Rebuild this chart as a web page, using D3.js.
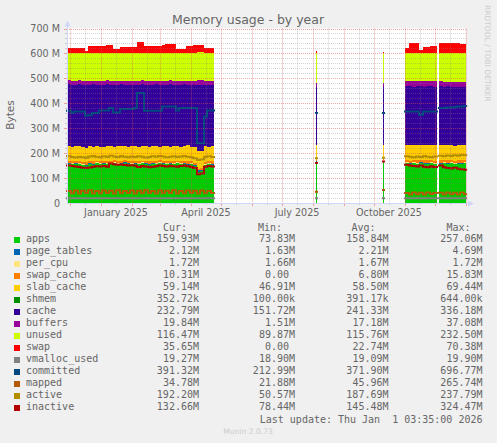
<!DOCTYPE html>
<html>
<head>
<meta charset="utf-8">
<script src="https://cdn.jsdelivr.net/npm/d3@7"></script>
<style>
  body { margin: 0; background: #f0f0f0; }
  svg text { font-family: "DejaVu Sans", sans-serif; fill: #666666; }
  svg text.mono { font-family: "DejaVu Sans Mono", monospace; font-size: 10px; white-space: pre; }
</style>
</head>
<body>
<div id="chart"></div>
<script>
// sample start dates (each value holds until the next date); gap rows carry null
var dates = [
    "2024-11-28", "2024-12-02", "2024-12-05", "2024-12-09", "2024-12-12", "2024-12-16", "2024-12-19",
    "2024-12-23", "2024-12-26", "2024-12-30", "2025-01-02", "2025-01-06", "2025-01-09", "2025-01-13",
    "2025-01-16", "2025-01-20", "2025-01-23", "2025-01-27", "2025-01-30", "2025-02-03", "2025-02-06",
    "2025-02-10", "2025-02-13", "2025-02-17", "2025-02-20", "2025-02-24", "2025-02-27", "2025-03-03",
    "2025-03-06", "2025-03-10", "2025-03-13", "2025-03-17", "2025-03-20", "2025-03-24", "2025-03-27",
    "2025-03-31", "2025-04-03", "2025-04-07", "2025-04-10", "2025-04-14", "2025-04-17", "2025-04-21",
    "2025-04-24",
    "2025-08-04", "2025-08-05",
    "2025-10-10", "2025-10-11",
    "2025-11-01", "2025-11-05", "2025-11-08", "2025-11-12", "2025-11-15", "2025-11-19", "2025-11-22",
    "2025-11-26", "2025-11-29", "2025-12-03",
    "2025-12-05", "2025-12-09", "2025-12-12", "2025-12-16", "2025-12-19", "2025-12-23", "2025-12-26",
    "2025-12-30", "2026-01-01T03:35"
];

// values in M (base 1024)
var apps = [157, 155, 158, 156, 152, 150, 157, 154, 159, 156, 158, 155, 157, 160, 156, 158, 161, 157, 155, 158, 156,
    159, 157, 154, 158, 156, 160, 157, 155, 158, 156, 159, 155, 157, 154, 156, 150, 126, 128, 152, 156, 154,
    null, 165, null, 168, null,
    160, 157, 159, 156, 161, 158, 157, 159, 156, null,
    158, 160, 157, 159, 156, 158, 157, 160, null];
var pageTables = [2.3, 2.2, 2.2, 2.1, 2.2, 2.3, 2.2, 2.2, 2.1, 2.2, 2.3, 2.2, 2.2, 2.1, 2.2, 2.2, 2.3, 2.2, 2.1, 2.2, 2.2,
    2.3, 2.2, 2.2, 2.1, 2.2, 2.2, 2.3, 2.2, 2.2, 2.1, 2.2, 2.3, 2.2, 2.2, 2.1, 2.4, 4.6, 3.8, 2.3, 2.2, 2.2,
    null, 2.0, null, 1.9, null,
    2.1, 2.2, 2.1, 2.1, 2.2, 2.1, 2.1, 2.2, 2.1, null,
    2.1, 2.1, 2.2, 2.1, 2.1, 2.2, 2.1, 2.1, null];
var perCpu = [1.67, 1.67, 1.67, 1.67, 1.67, 1.67, 1.67, 1.67, 1.67, 1.67, 1.67, 1.67, 1.67, 1.67, 1.67, 1.67, 1.67,
    1.67, 1.67, 1.67, 1.67, 1.67, 1.67, 1.67, 1.67, 1.67, 1.67, 1.67, 1.67, 1.67, 1.67, 1.67, 1.67, 1.67, 1.67,
    1.67, 1.67, 1.67, 1.67, 1.67, 1.67, 1.67,
    null, 1.66, null, 1.66, null,
    1.70, 1.70, 1.70, 1.70, 1.70, 1.71, 1.71, 1.71, 1.71, null,
    1.72, 1.72, 1.72, 1.72, 1.72, 1.72, 1.72, 1.72, null];
var swapCache = [8, 9, 7, 8, 10, 9, 8, 9, 7, 8, 8, 9, 8, 7, 9, 8, 7, 9, 10, 8, 8, 7, 8, 10, 8, 9, 7, 8, 9, 8, 9,
    7, 9, 8, 10, 9, 8, 6, 7, 9, 8, 9,
    null, 5, null, 5, null,
    8, 9, 10, 11, 9, 10, 11, 10, 10, null,
    10, 9, 11, 10, 10, 11, 10, 10, null];
var slabCache = [59, 57, 59, 59, 58, 59, 60, 58, 58, 58, 55, 60, 60, 55, 61, 57, 56, 56, 60, 59, 58, 60, 58, 58,
    58, 60, 55, 58, 62, 56, 60, 57, 57, 59, 63, 57, 62, 69, 68, 62, 57, 60,
    null, 58, null, 57, null,
    60, 61, 59, 60, 58, 61, 59, 60, 62, null,
    59, 60, 61, 58, 60, 59, 60, 59, null];
var shmem = [0.4, 0.4, 0.4, 0.4, 0.4, 0.4, 0.4, 0.4, 0.4, 0.4, 0.4, 0.4, 0.4, 0.4, 0.4, 0.4, 0.4, 0.4, 0.4, 0.4,
    0.4, 0.4, 0.4, 0.4, 0.4, 0.4, 0.4, 0.4, 0.4, 0.4, 0.4, 0.4, 0.4, 0.4, 0.4, 0.4, 0.4, 0.4, 0.4, 0.4, 0.4, 0.4,
    null, 0.3, null, 0.3, null,
    0.35, 0.35, 0.35, 0.35, 0.35, 0.35, 0.35, 0.35, 0.35, null,
    0.35, 0.35, 0.35, 0.35, 0.35, 0.35, 0.35, 0.35, null];
var cache = [247.7, 248.7, 246.7, 249.7, 248.7, 249.7, 245.7, 250.7, 245.7, 246.7, 249.7, 247.7, 244.7, 245.7,
    243.7, 248.7, 246.7, 246.7, 242.7, 244.7, 248.7, 245.7, 246.7, 246.7, 246.7, 246.7, 247.7, 245.7, 244.7,
    249.7, 244.7, 244.7, 248.7, 247.7, 243.7, 246.7, 247.7, 264.7, 263.7, 246.7, 249.7, 246.7,
    null, 232.8, null, 230, null,
    237.7, 236.7, 234.7, 237.7, 235.7, 233.7, 236.7, 235.7, 234.7, null,
    236.7, 233.7, 234.7, 234.7, 236.7, 233.7, 235.7, 232.7, null];
var buffers = [16, 17, 16, 15, 18, 19, 16, 15, 17, 18, 16, 16, 17, 19, 17, 15, 16, 18, 18, 17, 16, 16, 17, 18, 16,
    15, 17, 18, 16, 16, 17, 19, 17, 15, 16, 18, 18, 20, 19, 17, 16, 17,
    null, 16, null, 17, null,
    19, 20, 21, 19, 20, 21, 20, 19, 21, null,
    20, 20, 19, 21, 20, 20, 19, 20, null];
var unused = [110.7, 111.7, 111.7, 110.7, 111.7, 111.7, 111.7, 111.7, 111.7, 111.7, 111.7, 110.7, 111.7, 111.7,
    111.7, 111.7, 111.7, 111.7, 112.7, 111.7, 111.7, 110.7, 111.7, 111.7, 111.7, 111.7, 111.7, 111.7, 111.7,
    110.7, 111.7, 111.7, 111.7, 111.7, 111.7, 111.7, 112.7, 112.7, 112.7, 111.7, 111.7, 111.7,
    null, 121.6, null, 121.4, null,
    113.7, 114.7, 114.7, 114.7, 114.7, 114.7, 114.7, 114.7, 114.7, null,
    114.7, 115.7, 115.7, 115.7, 115.7, 116.7, 116.7, 116.7, null];
var swap = [19, 19, 19, 19, 19, 7, 26, 26, 26, 26, 26, 30, 33, 15, 15, 23, 23, 23, 23, 23, 42, 42, 26, 26, 26, 26,
    26, 33, 37, 37, 37, 15, 15, 15, 29, 29, 29, 29, 29, 19, 19, 19,
    null, 6, null, 4, null,
    20, 39, 39, 39, 12, 23, 24, 26, 27, null,
    38, 39, 39, 38, 39, 38, 37, 36, null];

var vmallocUsed = [19.0, 19.1, 19.1, 19.0, 19.1, 19.1, 19.0, 19.1, 19.1, 19.1, 19.0, 19.1, 19.1, 19.0, 19.1, 19.1,
    19.1, 19.0, 19.1, 19.1, 19.0, 19.1, 19.1, 19.1, 19.0, 19.1, 19.1, 19.0, 19.1, 19.1, 19.1, 19.0, 19.1, 19.1,
    19.0, 19.1, 19.1, 18.9, 18.9, 19.1, 19.1, 19.0,
    null, 19.1, null, 19.2, null,
    19.2, 19.3, 19.2, 19.2, 19.3, 19.2, 19.2, 19.3, 19.2, null,
    19.3, 19.2, 19.3, 19.3, 19.2, 19.3, 19.3, 19.3, null];
var committed = [370, 362, 367, 367, 367, 350, 352, 361, 361, 371, 371, 371, 381, 363, 363, 377, 377, 377, 377, 381,
    441, 441, 370, 370, 370, 370, 370, 387, 387, 387, 387, 371, 381, 381, 381, 381, 381, 240, 240, 347, 371, 371,
    null, 361, null, 361, null,
    367, 367, 367, 367, 354, 367, 367, 367, 367, null,
    381, 381, 383, 383, 385, 387, 387, 389, null];
var mapped = [48, 39, 50, 38, 49, 40, 51, 38, 48, 39, 50, 40, 49, 38, 51, 39, 48, 40, 50, 38, 49, 39, 51, 40, 48,
    38, 50, 39, 49, 40, 51, 38, 48, 39, 50, 40, 49, 38, 50, 39, 48, 40,
    null, 45, null, 52, null,
    40, 34, 42, 35, 41, 34, 42, 36, 40, null,
    41, 34, 42, 35, 41, 34, 42, 35, null];
var active = [188, 185, 183, 186, 184, 182, 187, 189, 186, 184, 188, 185, 190, 187, 185, 189, 186, 184, 187, 185,
    188, 186, 183, 185, 188, 186, 189, 187, 184, 186, 188, 185, 187, 189, 186, 184, 180, 172, 175, 186, 188, 185,
    null, 180, null, 182, null,
    188, 186, 184, 187, 185, 189, 186, 184, 187, null,
    190, 188, 191, 189, 192, 190, 193, 192, null];
var inactive = [150, 148, 146, 144, 141, 140, 142, 145, 147, 146, 148, 145, 158, 155, 153, 154, 152, 150, 151, 149,
    144, 148, 146, 143, 145, 147, 150, 148, 146, 149, 147, 145, 148, 150, 147, 144, 140, 115, 118, 145, 148, 146,
    null, 160, null, 166, null,
    153, 150, 148, 146, 150, 145, 143, 147, 144, null,
    150, 143, 140, 138, 141, 137, 135, 133, null];

// legend
var legendNames = ["apps", "page_tables", "per_cpu", "swap_cache", "slab_cache", "shmem", "cache", "buffers",
    "unused", "swap", "vmalloc_used", "committed", "mapped", "active", "inactive"];
var legendColors = ["#00CC00", "#0066B3", "#FFE680", "#FF8000", "#FFCC00", "#008F00", "#330099", "#990099",
    "#CCFF00", "#FF0000", "#808080", "#00487D", "#B35A00", "#B38F00", "#B30000"];
var curText = ["159.93M", "2.12M", "1.72M", "10.31M", "59.14M", "352.72k", "232.79M", "19.84M", "116.47M",
    "35.65M", "19.27M", "391.32M", "34.78M", "192.20M", "132.66M"];
var minText = ["73.83M", "1.63M", "1.66M", "0.00 ", "46.91M", "100.00k", "151.72M", "1.51M", "89.87M",
    "0.00 ", "18.90M", "212.99M", "21.88M", "50.57M", "78.44M"];
var avgText = ["158.84M", "2.21M", "1.67M", "6.80M", "58.50M", "391.17k", "241.33M", "17.18M", "115.76M",
    "22.74M", "19.09M", "371.90M", "45.96M", "187.69M", "145.48M"];
var maxText = ["257.06M", "4.69M", "1.72M", "15.83M", "69.44M", "644.00k", "336.18M", "37.08M", "232.50M",
    "70.38M", "19.90M", "696.77M", "265.74M", "237.79M", "324.47M"];

var areaKeys = ["apps", "page_tables", "per_cpu", "swap_cache", "slab_cache", "shmem", "cache", "buffers", "unused", "swap"];
var lineKeys = ["vmalloc_used", "committed", "mapped", "active", "inactive"];
var seriesByKey = {
    apps: apps, page_tables: pageTables, per_cpu: perCpu, swap_cache: swapCache, slab_cache: slabCache,
    shmem: shmem, cache: cache, buffers: buffers, unused: unused, swap: swap,
    vmalloc_used: vmallocUsed, committed: committed, mapped: mapped, active: active, inactive: inactive
};
var colorByKey = {};
legendNames.forEach(function (n, i) { colorByKey[n] = legendColors[i]; });

var parseDay = d3.utcParse("%Y-%m-%d");
var parseMinute = d3.utcParse("%Y-%m-%dT%H:%M");
function toDate(s) { return s.length > 10 ? parseMinute(s) : parseDay(s); }

var rows = dates.map(function (s, i) {
    var r = { t: toDate(s), gap: apps[i] == null };
    areaKeys.forEach(function (k) { r[k] = seriesByKey[k][i] || 0; });
    return r;
});

var svg = d3.select("#chart").append("svg")
    .attr("width", 497)
    .attr("height", 443);

svg.append("rect").attr("width", 497).attr("height", 443).attr("fill", "#f0f0f0");

var plot = { left: 67, right: 466.15, top: 28.5, bottom: 203 };

var x = d3.scaleUtc()
    .domain([rows[0].t, rows[rows.length - 1].t])
    .range([plot.left, plot.right]);
var y = d3.scaleLinear()
    .domain([0, 700])
    .range([plot.bottom, plot.top]);

// canvas
svg.append("rect")
    .attr("x", plot.left).attr("y", plot.top)
    .attr("width", plot.right - plot.left).attr("height", plot.bottom - plot.top)
    .attr("fill", "#ffffff");

// step points: each sample lasts until the next date
function steps(valueAt) {
    var pts = [];
    for (var i = 0; i < rows.length - 1; i++) {
        if (rows[i].gap) { pts.push(null); continue; }
        var v = valueAt(i);
        pts.push({ t: rows[i].t, v: v }, { t: rows[i + 1].t, v: v });
    }
    return pts;
}

var stacked = d3.stack().keys(areaKeys)(rows);

var area = d3.area()
    .defined(function (d) { return d !== null; })
    .x(function (d) { return x(d.t); })
    .y0(function (d) { return y(d.v[0]); })
    .y1(function (d) { return y(d.v[1]); });

svg.append("g").selectAll("path")
    .data(stacked)
    .enter()
    .append("path")
    .attr("fill", function (s) { return colorByKey[s.key]; })
    .attr("shape-rendering", "crispEdges")
    .attr("d", function (s) { return area(steps(function (i) { return [s[i][0], s[i][1]]; })); });

var line = d3.line()
    .defined(function (d) { return d !== null; })
    .x(function (d) { return x(d.t); })
    .y(function (d) { return y(d.v); });

svg.append("g").selectAll("path")
    .data(lineKeys)
    .enter()
    .append("path")
    .attr("fill", "none")
    .attr("stroke", function (k) { return colorByKey[k]; })
    .attr("stroke-width", 2)
    .attr("stroke-linecap", "square")
    .attr("d", function (k) { return line(steps(function (i) { return seriesByKey[k][i]; })); });

// grid on top, like rrdtool
var minorColor = "rgba(128,128,128,0.35)";
var majorColor = "rgba(224,80,80,0.5)";
var grid = svg.append("g").attr("stroke-width", 1).attr("stroke-dasharray", "1,1");

var yMinor = d3.range(20, 701, 20).filter(function (v) { return v % 100 !== 0; });
var yMajor = d3.range(100, 701, 100);
grid.selectAll("line.ymin").data(yMinor).enter().append("line")
    .attr("x1", plot.left).attr("x2", plot.right)
    .attr("y1", function (v) { return Math.round(y(v)) + 0.5; })
    .attr("y2", function (v) { return Math.round(y(v)) + 0.5; })
    .attr("stroke", minorColor);
grid.selectAll("line.ymaj").data(yMajor).enter().append("line")
    .attr("x1", plot.left).attr("x2", plot.right)
    .attr("y1", function (v) { return Math.round(y(v)) + 0.5; })
    .attr("y2", function (v) { return Math.round(y(v)) + 0.5; })
    .attr("stroke", majorColor);

var monthStarts = d3.utcMonth.range(x.domain()[0], x.domain()[1]);
var midMonths = d3.utcMonth.range(d3.utcMonth.floor(x.domain()[0]), x.domain()[1])
    .map(function (m) { return d3.utcDay.offset(m, 15); })
    .filter(function (d) { return d > x.domain()[0] && d < x.domain()[1]; });
grid.selectAll("line.xmin").data(midMonths).enter().append("line")
    .attr("x1", function (d) { return Math.round(x(d)) + 0.5; })
    .attr("x2", function (d) { return Math.round(x(d)) + 0.5; })
    .attr("y1", plot.top).attr("y2", plot.bottom)
    .attr("stroke", minorColor);
grid.selectAll("line.xmaj").data(monthStarts).enter().append("line")
    .attr("x1", function (d) { return Math.round(x(d)) + 0.5; })
    .attr("x2", function (d) { return Math.round(x(d)) + 0.5; })
    .attr("y1", plot.top).attr("y2", plot.bottom)
    .attr("stroke", majorColor);

// axis ticks
var ticks = svg.append("g").attr("stroke-width", 1);
yMinor.forEach(function (v) {
    var yy = Math.round(y(v)) + 0.5;
    ticks.append("line").attr("x1", plot.left - 2).attr("x2", plot.left).attr("y1", yy).attr("y2", yy).attr("stroke", minorColor);
});
yMajor.forEach(function (v) {
    var yy = Math.round(y(v)) + 0.5;
    ticks.append("line").attr("x1", plot.left - 3).attr("x2", plot.left).attr("y1", yy).attr("y2", yy).attr("stroke", majorColor);
});
midMonths.forEach(function (d) {
    var xx = Math.round(x(d)) + 0.5;
    ticks.append("line").attr("x1", xx).attr("x2", xx).attr("y1", plot.bottom).attr("y2", plot.bottom + 2).attr("stroke", minorColor);
});
monthStarts.forEach(function (d) {
    var xx = Math.round(x(d)) + 0.5;
    ticks.append("line").attr("x1", xx).attr("x2", xx).attr("y1", plot.bottom).attr("y2", plot.bottom + 3).attr("stroke", majorColor);
});

// axes and arrows
var axisColor = "#CFD6F8";
svg.append("line").attr("x1", plot.left + 0.5).attr("x2", plot.left + 0.5)
    .attr("y1", plot.bottom).attr("y2", 24).attr("stroke", axisColor);
svg.append("line").attr("x1", plot.left).attr("x2", 469)
    .attr("y1", plot.bottom + 0.5).attr("y2", plot.bottom + 0.5).attr("stroke", axisColor);
svg.append("path").attr("d", "M64.5,26.5 L67.5,20.5 L70.5,26.5 Z").attr("fill", axisColor);
svg.append("path").attr("d", "M468,200.5 L474,203.5 L468,206.5 Z").attr("fill", axisColor);

// tick labels
svg.append("g").selectAll("text")
    .data(d3.range(0, 701, 100))
    .enter()
    .append("text")
    .attr("x", 60)
    .attr("y", function (v) { return y(v) + 3.5; })
    .attr("text-anchor", "end")
    .attr("font-size", "9.6px")
    .text(function (v) { return v === 0 ? "0" : v + " M"; });

// labels sit mid-month, only when that point is inside the graph
var labelMonths = monthStarts.filter(function (d) {
    return d.getUTCMonth() % 3 === 0 && d3.utcDay.offset(d, 15) < x.domain()[1];
});
svg.append("g").selectAll("text")
    .data(labelMonths)
    .enter()
    .append("text")
    .attr("x", function (d) { return x(d3.utcDay.offset(d, 15)); })
    .attr("y", 216)
    .attr("text-anchor", "middle")
    .attr("font-size", "9.6px")
    .text(d3.utcFormat("%B %Y"));

// titles
svg.append("text")
    .attr("x", 248).attr("y", 23.5)
    .attr("text-anchor", "middle")
    .attr("font-size", "12.5px")
    .text("Memory usage - by year");

svg.append("text")
    .attr("transform", "translate(13.5,115) rotate(-90)")
    .attr("text-anchor", "middle")
    .attr("font-size", "10.5px")
    .text("Bytes");

svg.append("text")
    .attr("transform", "translate(485,5) rotate(90)")
    .attr("font-size", "7.5px")
    .style("fill", "#cccccc")
    .text("RRDTOOL / TOBI OETIKER");

// legend
var legend = svg.append("g");
[["Cur:", 163], ["Min:", 258], ["Avg:", 351.5], ["Max:", 446.5]].forEach(function (h) {
    legend.append("text").attr("class", "mono").attr("x", h[1]).attr("y", 231).text(h[0]);
});

var rowsG = legend.selectAll("g.row")
    .data(legendNames)
    .enter()
    .append("g")
    .attr("transform", function (d, i) { return "translate(0," + (242 + 12 * i) + ")"; });

rowsG.append("rect")
    .attr("x", 14).attr("y", -5).attr("width", 6).attr("height", 6)
    .attr("fill", function (d, i) { return legendColors[i]; });
rowsG.append("text").attr("class", "mono").attr("x", 26).text(function (d) { return d; });

[[curText, 199], [minText, 295], [avgText, 388.5], [maxText, 482.5]].forEach(function (col) {
    rowsG.append("text")
        .attr("class", "mono")
        .attr("xml:space", "preserve")
        .attr("x", col[1])
        .attr("text-anchor", "end")
        .text(function (d, i) { return col[0][i]; });
});

legend.append("text")
    .attr("class", "mono")
    .attr("xml:space", "preserve")
    .attr("x", 482.5).attr("y", 423)
    .attr("text-anchor", "end")
    .text("Last update: Thu Jan  1 03:35:00 2026");

svg.append("text")
    .attr("x", 248).attr("y", 434)
    .attr("text-anchor", "middle")
    .attr("font-size", "7.6px")
    .style("fill", "#cccccc")
    .text("Munin 2.0.73");
</script>
</body>
</html>
